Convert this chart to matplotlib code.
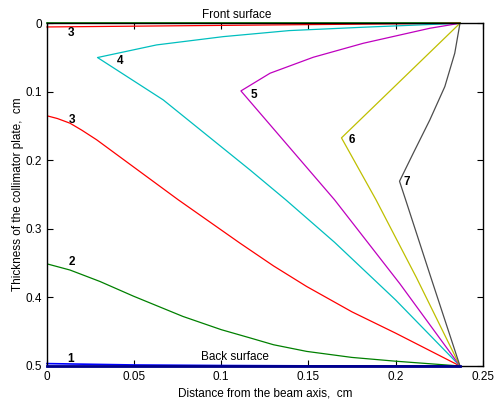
import numpy as np
import matplotlib
matplotlib.use("Agg")
import matplotlib.pyplot as plt

plt.rcParams['font.family'] = ['Liberation Sans', 'DejaVu Sans']

# curve data (x: distance from axis, y: depth)
x_front = [0.0, 0.237]
y_front = [0.0, 0.0]
x_back = [0.0, 0.237]
y_back = [0.5, 0.5]

x1 = [0.0, 0.05, 0.1, 0.15, 0.237]
y1 = [0.4965, 0.4985, 0.4993, 0.4998, 0.5]

x3a = [0.0, 0.237]
y3a = [0.0054, 0.0]

x2 = [0.0, 0.0132, 0.0304, 0.0495, 0.078, 0.1, 0.1165, 0.13, 0.149, 0.175, 0.2, 0.237]
y2 = [0.351, 0.36, 0.3767, 0.398, 0.4277, 0.447, 0.459, 0.469, 0.4787, 0.4875, 0.493, 0.5]

x3 = [0.0, 0.006, 0.0132, 0.02, 0.0285, 0.0753, 0.1107, 0.13, 0.149, 0.175, 0.2, 0.237]
y3 = [0.135, 0.139, 0.1458, 0.156, 0.170, 0.2575, 0.3207, 0.354, 0.384, 0.421, 0.452, 0.5]

x4 = [0.237, 0.1815, 0.139, 0.1012, 0.0629, 0.029, 0.0667, 0.1165, 0.137, 0.165, 0.2, 0.237]
y4 = [0.0, 0.0058, 0.0107, 0.0195, 0.0316, 0.05, 0.1118, 0.214, 0.2575, 0.3195, 0.4035, 0.5]

x5 = [0.237, 0.2197, 0.1815, 0.1528, 0.128, 0.1113, 0.165, 0.2025, 0.237]
y5 = [0.0, 0.0073, 0.0292, 0.0496, 0.0729, 0.0987, 0.2575, 0.38, 0.5]

x6 = [0.237, 0.169, 0.1888, 0.212, 0.237]
y6 = [0.0, 0.1672, 0.2575, 0.371, 0.5]

x7 = [0.237, 0.234, 0.2283, 0.2197, 0.2102, 0.2023, 0.2058, 0.22, 0.237]
y7 = [0.0, 0.0437, 0.0924, 0.141, 0.1895, 0.2305, 0.2575, 0.3685, 0.5]

labels = ['3', '4', '5', '6', '7', '3', '2', '1']
label_x = [0.0138, 0.0419, 0.1188, 0.175, 0.2065, 0.0143, 0.0143, 0.0138]
label_y = [0.014, 0.055, 0.1045, 0.170, 0.231, 0.141, 0.348, 0.490]

fig = plt.figure(figsize=(4.94, 4.01), dpi=100)
ax = fig.add_axes([0.0951, 0.0873, 0.8819, 0.8547])

lw = 0.9
ax.plot(x_front, y_front, color=(0, 0.5, 0), lw=1.2, clip_on=False)
ax.plot(x3a, y3a, color='red', lw=lw, clip_on=False)
ax.plot(x_back, y_back, color=(0, 0, 0.55), lw=2.0, clip_on=False, zorder=3)
ax.plot(x1, y1, color='blue', lw=1.2, clip_on=False)
ax.plot(x2, y2, color=(0, 0.5, 0), lw=lw)
ax.plot(x3, y3, color='red', lw=lw)
ax.plot(x4, y4, color=(0, 0.75, 0.75), lw=lw)
ax.plot(x5, y5, color=(0.75, 0, 0.75), lw=lw)
ax.plot(x6, y6, color=(0.75, 0.75, 0), lw=lw)
ax.plot(x7, y7, color=(0.3, 0.3, 0.3), lw=lw)

for t, tx, ty in zip(labels, label_x, label_y):
    ax.text(tx, ty, t, fontsize=8.5, fontweight='bold', ha='center', va='center')

ax.text(0.1087, -0.004, 'Front surface', fontsize=8.5, ha='center', va='bottom')
ax.text(0.108, 0.4955, 'Back surface', fontsize=8.5, ha='center', va='bottom')

ax.set_xlim(0, 0.25)
ax.set_ylim(0.5, 0)
ax.set_xticks([0, 0.05, 0.1, 0.15, 0.2, 0.25])
ax.set_xticklabels(['0', '0.05', '0.1', '0.15', '0.2', '0.25'])
ax.set_yticks([0, 0.1, 0.2, 0.3, 0.4, 0.5])
ax.set_yticklabels(['0', '0.1', '0.2', '0.3', '0.4', '0.5'])
ax.tick_params(direction='in', top=True, right=True, labelsize=8.5, length=4, width=0.8)
for s in ax.spines.values():
    s.set_linewidth(1.0)

ax.set_xlabel('Distance from the beam axis,  cm', fontsize=8.5, labelpad=3)
ax.set_ylabel('Thickness of the collimator plate,  cm', fontsize=8.5, labelpad=1)

fig.savefig('out.png', dpi=100)
